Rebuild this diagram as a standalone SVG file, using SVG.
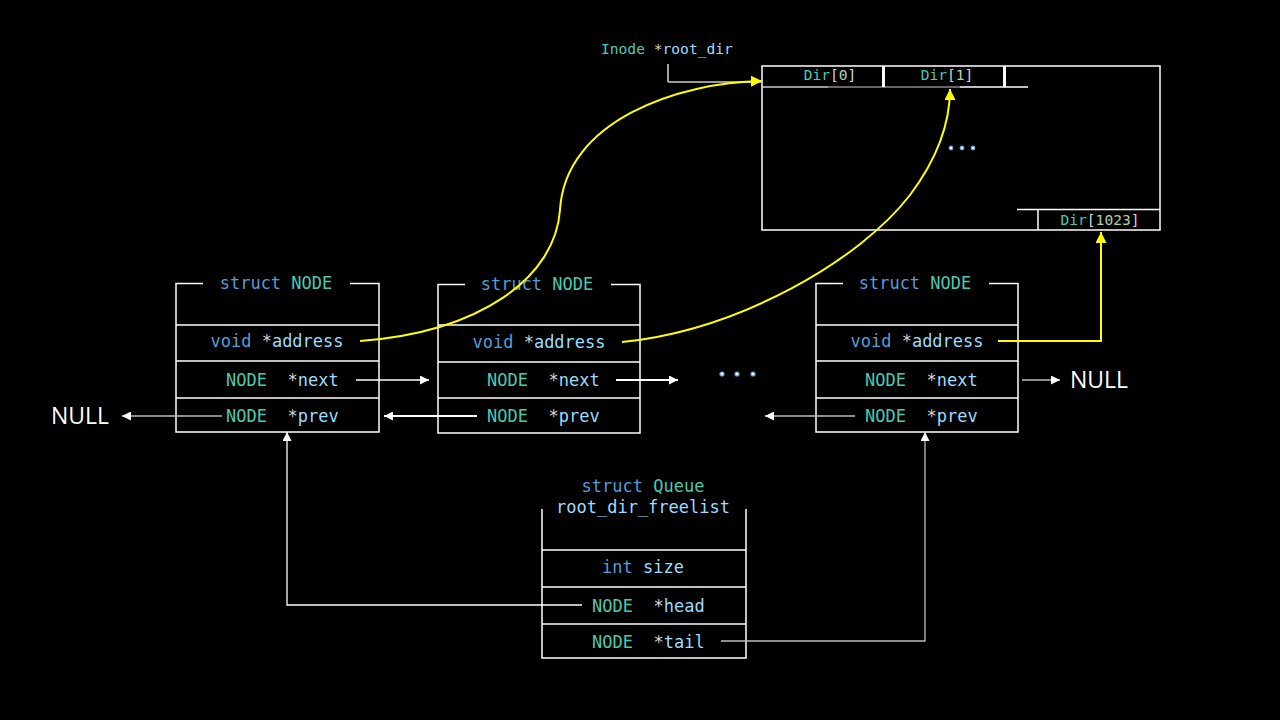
<svg xmlns="http://www.w3.org/2000/svg" width="1280" height="720" viewBox="0 0 1280 720">
<style>
.box{fill:none;stroke:#fff;stroke-width:1.5}
.ln{stroke:#fff;stroke-width:1.5;fill:none}
.t{font-family:"DejaVu Sans Mono","Liberation Mono",monospace;font-size:17px;white-space:pre}
.s{font-family:"DejaVu Sans Mono","Liberation Mono",monospace;font-size:14.6px;white-space:pre}
.kw{fill:#569cd6}.ty{fill:#4ec9b0}.op{fill:#d4d4d4}.id{fill:#9cdcfe}.num{fill:#b5cea8}
.null{font-family:"Open Sans","Noto Sans",sans-serif;font-size:23px;fill:#fff}
.c{fill:none;stroke:#fff;stroke-width:1.3}
.cg{fill:none;stroke:#bbb;stroke-width:1.3}
.ct{fill:none;stroke:#fff;stroke-width:2.2}
.y{fill:none;stroke:#ffff00;stroke-width:2}
.dot{fill:#fff;stroke:#6f9fe0;stroke-width:1.2}
</style>
<defs>
<marker id="aw" viewBox="0 0 10 10" refX="10" refY="5" markerWidth="10" markerHeight="9" markerUnits="userSpaceOnUse" orient="auto"><path d="M0,0 L10,5 L0,10 z" fill="#fff"/></marker>
<marker id="ay" viewBox="0 0 10 10" refX="10" refY="5" markerWidth="12" markerHeight="11" markerUnits="userSpaceOnUse" orient="auto"><path d="M0,0 L10,5 L0,10 z" fill="#ffff00"/></marker>
</defs>
<rect width="1280" height="720" fill="#000"/>

<g id="root_dir_label">
<text class="s" x="601" y="54"><tspan class="ty">Inode</tspan> <tspan class="op">*</tspan><tspan class="id">root_dir</tspan></text>
</g>

<g id="dir_table">
<rect class="box" x="762" y="66" width="398" height="164"/>
<line x1="762" y1="87" x2="828" y2="87" stroke="#ccc" stroke-width="1.5"/>
<line x1="828" y1="87" x2="960" y2="87" stroke="#888" stroke-width="1.5"/>
<line x1="960" y1="87" x2="1028" y2="87" stroke="#fff" stroke-width="1.5"/>
<line x1="883.5" y1="66" x2="883.5" y2="87" stroke="#fff" stroke-width="3"/>
<line x1="1004.5" y1="66" x2="1004.5" y2="87" stroke="#fff" stroke-width="3"/>
<text class="s" x="830" y="80" text-anchor="middle"><tspan class="ty">Dir</tspan><tspan class="op">[</tspan><tspan class="num">0</tspan><tspan class="op">]</tspan></text>
<text class="s" x="947" y="80" text-anchor="middle"><tspan class="ty">Dir</tspan><tspan class="op">[</tspan><tspan class="num">1</tspan><tspan class="op">]</tspan></text>
<circle class="dot" cx="951" cy="148" r="1.8"/>
<circle class="dot" cx="962" cy="148" r="1.8"/>
<circle class="dot" cx="973" cy="148" r="1.8"/>
<line class="ln" x1="1017" y1="209.5" x2="1160" y2="209.5"/>
<line class="ln" x1="1038" y1="209.5" x2="1038" y2="230"/>
<text class="s" x="1100" y="225" text-anchor="middle"><tspan class="ty">Dir</tspan><tspan class="op">[</tspan><tspan class="num">1023</tspan><tspan class="op">]</tspan></text>
</g>

<g id="node1">
<path class="ln" d="M203,283.5 H176 V432 H379 V283.5 H350"/>
<line class="ln" x1="176" y1="325" x2="379" y2="325"/>
<line class="ln" x1="176" y1="361" x2="379" y2="361"/>
<line class="ln" x1="176" y1="398" x2="379" y2="398"/>
<text class="t" x="276" y="289" text-anchor="middle"><tspan class="kw">struct</tspan> <tspan class="ty">NODE</tspan></text>
<text class="t" x="277" y="347" text-anchor="middle"><tspan class="kw">void</tspan> <tspan class="op">*</tspan><tspan class="id">address</tspan></text>
<text class="t" x="226" y="386"><tspan class="ty">NODE</tspan>  <tspan class="op">*</tspan><tspan class="id">next</tspan></text>
<text class="t" x="226" y="422"><tspan class="ty">NODE</tspan>  <tspan class="op">*</tspan><tspan class="id">prev</tspan></text>
</g>

<g id="node2">
<path class="ln" d="M465,284.5 H438 V433 H640 V284.5 H611"/>
<line class="ln" x1="438" y1="325" x2="640" y2="325"/>
<line class="ln" x1="438" y1="362" x2="640" y2="362"/>
<line class="ln" x1="438" y1="398" x2="640" y2="398"/>
<text class="t" x="537" y="290" text-anchor="middle"><tspan class="kw">struct</tspan> <tspan class="ty">NODE</tspan></text>
<text class="t" x="539" y="348" text-anchor="middle"><tspan class="kw">void</tspan> <tspan class="op">*</tspan><tspan class="id">address</tspan></text>
<text class="t" x="487" y="386"><tspan class="ty">NODE</tspan>  <tspan class="op">*</tspan><tspan class="id">next</tspan></text>
<text class="t" x="487" y="422"><tspan class="ty">NODE</tspan>  <tspan class="op">*</tspan><tspan class="id">prev</tspan></text>
</g>

<g id="ellipsis_mid">
<circle class="dot" cx="722" cy="374" r="2"/>
<circle class="dot" cx="737" cy="374" r="2"/>
<circle class="dot" cx="753" cy="374" r="2"/>
</g>

<g id="node3">
<path class="ln" d="M843,283.5 H816 V432 H1018 V283.5 H989"/>
<line class="ln" x1="816" y1="325" x2="1018" y2="325"/>
<line class="ln" x1="816" y1="361" x2="1018" y2="361"/>
<line class="ln" x1="816" y1="398" x2="1018" y2="398"/>
<text class="t" x="915" y="289" text-anchor="middle"><tspan class="kw">struct</tspan> <tspan class="ty">NODE</tspan></text>
<text class="t" x="917" y="347" text-anchor="middle"><tspan class="kw">void</tspan> <tspan class="op">*</tspan><tspan class="id">address</tspan></text>
<text class="t" x="865" y="386"><tspan class="ty">NODE</tspan>  <tspan class="op">*</tspan><tspan class="id">next</tspan></text>
<text class="t" x="865" y="422"><tspan class="ty">NODE</tspan>  <tspan class="op">*</tspan><tspan class="id">prev</tspan></text>
</g>

<g id="null_left"><text class="null" x="51" y="424">NULL</text></g>
<g id="null_right"><text class="null" x="1070" y="388">NULL</text></g>

<g id="queue">
<path class="ln" d="M542,509 V658 H746 V509"/>
<line class="ln" x1="542" y1="550" x2="746" y2="550"/>
<line class="ln" x1="542" y1="587" x2="746" y2="587"/>
<line class="ln" x1="542" y1="624" x2="746" y2="624"/>
<text class="t" x="643" y="492" text-anchor="middle"><tspan class="kw">struct</tspan> <tspan class="ty">Queue</tspan></text>
<text class="t" x="643" y="513" text-anchor="middle" fill="#9cdcfe">root_dir_freelist</text>
<text class="t" x="643" y="573" text-anchor="middle"><tspan class="kw">int</tspan> <tspan class="id">size</tspan></text>
<text class="t" x="592" y="612"><tspan class="ty">NODE</tspan>  <tspan class="op">*</tspan><tspan class="id">head</tspan></text>
<text class="t" x="592" y="648"><tspan class="ty">NODE</tspan>  <tspan class="op">*</tspan><tspan class="id">tail</tspan></text>
</g>

<g id="connectors">
<path class="c" d="M668,64 V82"/>
<path d="M668,82 H762" stroke="#999" stroke-width="2" fill="none"/>
<path class="y" d="M360,341 C480,332 555,278 560,210 C565,120 680,82 762,81" marker-end="url(#ay)"/>
<path class="y" d="M622,342 C740,330 860,260 910,195 C940,155 950,120 950,89" marker-end="url(#ay)"/>
<path class="y" d="M998,341 H1101 V232" marker-end="url(#ay)" stroke-width="2.5"/>
<path class="c" d="M356,380 H429" marker-end="url(#aw)"/>
<path class="ct" d="M616,380 H678" marker-end="url(#aw)"/>
<path class="cg" d="M1022,380 H1060" marker-end="url(#aw)"/>
<path class="cg" d="M222,416 H122" marker-end="url(#aw)"/>
<path class="ct" d="M477,416 H384" marker-end="url(#aw)"/>
<path class="cg" d="M855,416 H765" marker-end="url(#aw)"/>
<path class="c" d="M582,605 H287 V432" marker-end="url(#aw)"/>
<path class="cg" d="M721,641 H925 V432" marker-end="url(#aw)"/>
</g>
</svg>
